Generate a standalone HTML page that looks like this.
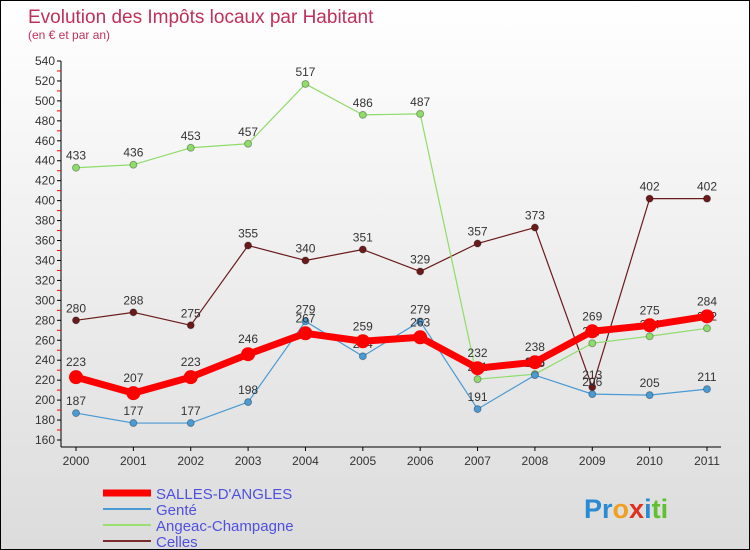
<!DOCTYPE html>
<html><head><meta charset="utf-8">
<style>
body{margin:0;}
#wrap{position:relative;width:748px;height:548px;border:1px solid #000;background:linear-gradient(#fff,#dcdcdc);overflow:hidden;font-family:"Liberation Sans","DejaVu Sans",sans-serif;}
svg text{font-family:"Liberation Sans","DejaVu Sans",sans-serif;}
</style></head><body>
<div id="wrap">
<svg id="chart" width="748" height="548">
<text x="27" y="22" font-size="19" fill="#c0305a">Evolution des Impôts locaux par Habitant</text>
<text x="27" y="38" font-size="12" fill="#c0305a">(en € et par an)</text>
<g id="axes"></g><g id="series"></g>
<g>
<line x1="102" y1="492" x2="150" y2="492" stroke="#f00" stroke-width="7"/>
<text x="155" y="498" font-size="15" fill="#5050e0">SALLES-D'ANGLES</text>
<line x1="102" y1="508" x2="150" y2="508" stroke="#4a9ad4" stroke-width="2"/>
<text x="155" y="514" font-size="15" fill="#5050e0">Genté</text>
<line x1="102" y1="524" x2="150" y2="524" stroke="#99e070" stroke-width="2"/>
<text x="155" y="530" font-size="15" fill="#5050e0">Angeac-Champagne</text>
<line x1="102" y1="540" x2="150" y2="540" stroke="#7a2a2a" stroke-width="2"/>
<text x="155" y="546" font-size="15" fill="#5050e0">Celles</text>
</g>
<text x="583" y="517" font-size="27" font-weight="bold"><tspan fill="#2a8ad4">Pr</tspan><tspan fill="#f0a020">o</tspan><tspan fill="#e03020">x</tspan><tspan fill="#2a8ad4">i</tspan><tspan fill="#60c030">ti</tspan></text>
</svg>
</div>
<script>
const years=["2000","2001","2002","2003","2004","2005","2006","2007","2008","2009","2010","2011"];
const salles=[223,207,223,246,267,259,263,232,238,269,275,284];
const gente=[187,177,177,198,279,244,279,191,225,206,205,211];
const angeac=[433,436,453,457,517,486,487,221,226,257,264,272];
const celles=[280,288,275,355,340,351,329,357,373,213,402,402];
const yTicks=[160,180,200,220,240,260,280,300,320,340,360,380,400,420,440,460,480,500,520,540];
const NS="http://www.w3.org/2000/svg";
function y(v){return 60+(540-v)*(379/380);}
function x(i){return 75+i*(631/11);}
function mk(t,a,p){const e=document.createElementNS(NS,t);for(const k in a)e.setAttribute(k,a[k]);p.appendChild(e);return e;}
const ax=document.getElementById('axes'),sg=document.getElementById('series');
let l=mk('line',{x1:60,y1:y(540),x2:60,y2:446,stroke:'#000'},ax);


l=mk('line',{x1:60,y1:446,x2:720,y2:446,stroke:'#000'},ax);


yTicks.forEach(v=>{
 mk('line',{x1:56,y1:y(v),x2:60,y2:y(v),stroke:'#000'},ax);
 if(v<540)mk('line',{x1:56,y1:y(v+10),x2:60,y2:y(v+10),stroke:'#f00'},ax);
 const t=mk('text',{x:54,y:y(v)+4,'font-size':12,'text-anchor':'end',fill:'#333'},ax);t.textContent=v;
 
 
});
years.forEach((yr,i)=>{
 mk('line',{x1:x(i),y1:446,x2:x(i),y2:450,stroke:'#000'},ax);
 const t=mk('text',{x:x(i),y:464,'font-size':12,'text-anchor':'middle',fill:'#333'},ax);t.textContent=yr;
 
 
});
function series(d,col,w,r,name){
 const g=mk('g',{},sg);
 
 
 mk('polyline',{points:d.map((v,i)=>x(i)+','+y(v)).join(' '),fill:'none',stroke:col,'stroke-width':w,'stroke-linejoin':'round'},g);
 d.forEach((v,i)=>{
  const c=mk('circle',{cx:x(i),cy:y(v),r:r,fill:col,stroke:'rgba(0,0,0,0.3)','stroke-width':r>5?0:1},g);
  
  
  const t=mk('text',{x:x(i),y:y(v)-(r>5?11:8),'font-size':12,'text-anchor':'middle',fill:'#333'},g);t.textContent=v;
 });
}
series(celles,'#6a1a1a',1.2,3.5,'series-celles');
series(angeac,'#8fdc6a',1.2,3.5,'series-angeac');
series(gente,'#4a9ad4',1.2,3.5,'series-gente');
series(salles,'#f00',7,7,'series-salles');
</script>
</body></html>
